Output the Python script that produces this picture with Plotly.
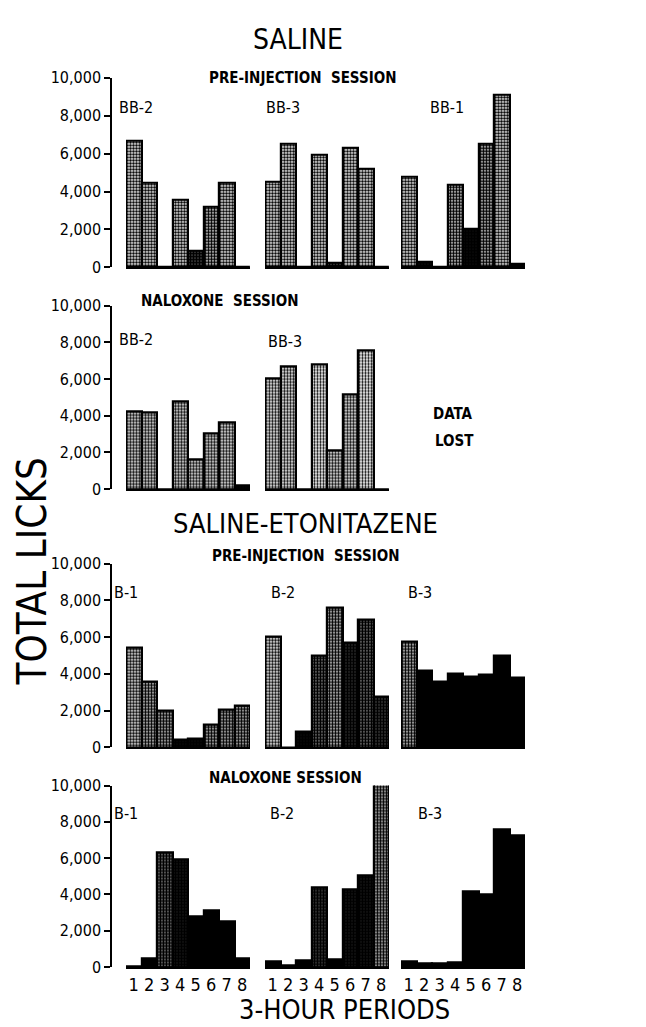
import plotly.graph_objects as go

# ---- data (3-hour periods 1..8) ----
periods = [1, 2, 3, 4, 5, 6, 7, 8]
period_labels = ["1", "2", "3", "4", "5", "6", "7", "8"]
y_ticks = [0, 2000, 4000, 6000, 8000, 10000]
y_tick_labels = ["0", "2,000", "4,000", "6,000", "8,000", "10,000"]

# Saline, pre-injection session
sal_pre_names = ["BB-2", "BB-3", "BB-1"]
sal_pre_bb2 = [6700, 4450, 0, 3580, 870, 3200, 4450, 0]
sal_pre_bb3 = [4500, 6520, 0, 5930, 250, 6320, 5190, 0]
sal_pre_bb1 = [4760, 300, 0, 4360, 2020, 6490, 9080, 170]

# Saline, naloxone session (BB-1 data lost)
sal_nal_names = ["BB-2", "BB-3"]
sal_nal_bb2 = [4240, 4150, 0, 4780, 1600, 3050, 3620, 180]
sal_nal_bb3 = [6020, 6650, 0, 6770, 2100, 5130, 7540, 0]

# Saline-etonitazene, pre-injection session
eto_pre_names = ["B-1", "B-2", "B-3"]
eto_pre_b1 = [5440, 3560, 2010, 400, 460, 1250, 2050, 2250]
eto_pre_b2 = [6020, 0, 820, 5010, 7630, 5670, 6970, 2760]
eto_pre_b3 = [5760, 4190, 3580, 4010, 3850, 3975, 4990, 3780]

# Saline-etonitazene, naloxone session
eto_nal_names = ["B-1", "B-2", "B-3"]
eto_nal_b1 = [50, 470, 6290, 5930, 2770, 3130, 2500, 500]
eto_nal_b2 = [290, 80, 360, 4390, 430, 4300, 5030, 10140]
eto_nal_b3 = [320, 200, 200, 230, 4160, 3980, 7560, 7250]

# ---- styling (bar darkness = stipple solidity) ----
shade = {
    (0, 0): [0.6, 0.65, 0.6, 0.65, 0.85, 0.7, 0.65, 0.6],
    (0, 1): [0.6, 0.6, 0.6, 0.6, 0.85, 0.6, 0.6, 0.6],
    (0, 2): [0.65, 0.9, 0.6, 0.7, 0.9, 0.75, 0.65, 0.95],
    (1, 0): [0.6, 0.6, 0.6, 0.6, 0.6, 0.6, 0.55, 0.9],
    (1, 1): [0.5, 0.5, 0.5, 0.45, 0.55, 0.55, 0.45, 0.5],
    (2, 0): [0.65, 0.7, 0.75, 0.9, 0.9, 0.75, 0.75, 0.75],
    (2, 1): [0.55, 0.6, 0.9, 0.8, 0.7, 0.88, 0.8, 0.85],
    (2, 2): [0.7, 0.95, 0.97, 0.97, 0.97, 0.97, 0.97, 0.97],
    (3, 0): [0.97, 0.97, 0.8, 0.92, 0.97, 0.97, 0.97, 0.97],
    (3, 1): [0.97, 0.97, 0.97, 0.85, 0.97, 0.92, 0.92, 0.75],
    (3, 2): [0.97, 0.97, 0.97, 0.97, 0.94, 0.96, 0.94, 0.95],
}

FONT = "DejaVu Sans Condensed, Liberation Sans Narrow, DejaVu Sans, sans-serif"
W, H = 646, 1027

def fx(px):
    return px / W

def fy(py):
    return 1 - py / H

rows = [
    [sal_pre_bb2, sal_pre_bb3, sal_pre_bb1],
    [sal_nal_bb2, sal_nal_bb3],
    [eto_pre_b1, eto_pre_b2, eto_pre_b3],
    [eto_nal_b1, eto_nal_b2, eto_nal_b3],
]
row_pix = [(62, 255), (294, 481), (557, 744), (783, 968)]   # (top=10000, bottom=0)
col_pix = [(118, 242), (257, 381), (393, 517)]

fig = go.Figure()
layout = {}
k = 0
for r, row in enumerate(rows):
    for c, vals in enumerate(row):
        k += 1
        xa = "x" if k == 1 else f"x{k}"
        ya = "y" if k == 1 else f"y{k}"
        fig.add_trace(go.Bar(
            x=periods, y=vals, xaxis=xa, yaxis=ya, width=1.0,
            cliponaxis=False, showlegend=False,
            marker=dict(
                color="black",
                line=dict(color="black", width=2.2),
                pattern=dict(shape=".", fillmode="replace", fgcolor="black",
                             bgcolor="white", size=3, solidity=shade[(r, c)]),
            ),
        ))
        top, bot = row_pix[r]
        left, right = col_pix[c]
        xkey = "xaxis" if k == 1 else f"xaxis{k}"
        ykey = "yaxis" if k == 1 else f"yaxis{k}"
        xdict = dict(domain=[fx(left), fx(right)], range=[0.5, 8.5], anchor=ya,
                     showline=True, linecolor="black", linewidth=2,
                     showgrid=False, zeroline=False, fixedrange=True)
        if r == 3:
            xdict.update(tickmode="array", tickvals=periods, ticktext=period_labels,
                         ticks="", tickfont=dict(family=FONT, size=18, color="black"))
        else:
            xdict.update(showticklabels=False, ticks="")
        ydict = dict(domain=[fy(bot), fy(top)], range=[0, 10000], anchor=xa,
                     showgrid=False, zeroline=False, fixedrange=True)
        if c == 0:
            ydict.update(anchor="free", position=fx(103), showline=True,
                         linecolor="black", linewidth=1.5, ticks="outside",
                         ticklen=6, tickwidth=1.5, tickcolor="black",
                         tickmode="array", tickvals=y_ticks, ticktext=y_tick_labels,
                         tickfont=dict(family=FONT, size=16, color="black"))
        else:
            ydict.update(visible=False)
        layout[xkey] = xdict
        layout[ykey] = ydict

def ann(text, px, py, size, bold=False, angle=0):
    t = f"<b>{text}</b>" if bold else text
    return dict(text=t, x=fx(px), y=fy(py), xref="paper", yref="paper",
                xanchor="center", yanchor="middle", showarrow=False, textangle=angle,
                font=dict(family=FONT, size=size, color="black"))

annotations = [
    ann("SALINE", 290, 23, 28),
    ann("PRE-INJECTION&nbsp;&nbsp;SESSION", 294, 62, 15, bold=True),
    ann(sal_pre_names[0], 128, 92, 16),
    ann(sal_pre_names[1], 275, 92, 16),
    ann(sal_pre_names[2], 439, 92, 16),
    ann("NALOXONE&nbsp;&nbsp;SESSION", 211, 289, 15, bold=True),
    ann(sal_nal_names[0], 128, 329, 16),
    ann(sal_nal_names[1], 277, 331, 16),
    ann("DATA", 445, 404, 15, bold=True),
    ann("LOST", 446, 432, 15, bold=True),
    ann("SALINE-ETONITAZENE", 297, 516, 27),
    ann("PRE-INJECTION&nbsp;&nbsp;SESSION", 297, 549, 15, bold=True),
    ann(eto_pre_names[0], 118, 586, 16),
    ann(eto_pre_names[1], 275, 586, 16),
    ann(eto_pre_names[2], 412, 586, 16),
    ann("NALOXONE SESSION", 277, 775, 15, bold=True),
    ann(eto_nal_names[0], 118, 812, 16),
    ann(eto_nal_names[1], 274, 812, 16),
    ann(eto_nal_names[2], 422, 812, 16),
    ann("3-HOUR PERIODS", 336, 1011, 27),
    ann("TOTAL LICKS", 24, 565, 40, angle=-90),
]

fig.update_layout(
    width=W, height=H, margin=dict(l=0, r=0, t=0, b=0),
    paper_bgcolor="white", plot_bgcolor="rgba(0,0,0,0)",
    bargap=0, annotations=annotations, **layout,
)

fig.write_html("out.html")
